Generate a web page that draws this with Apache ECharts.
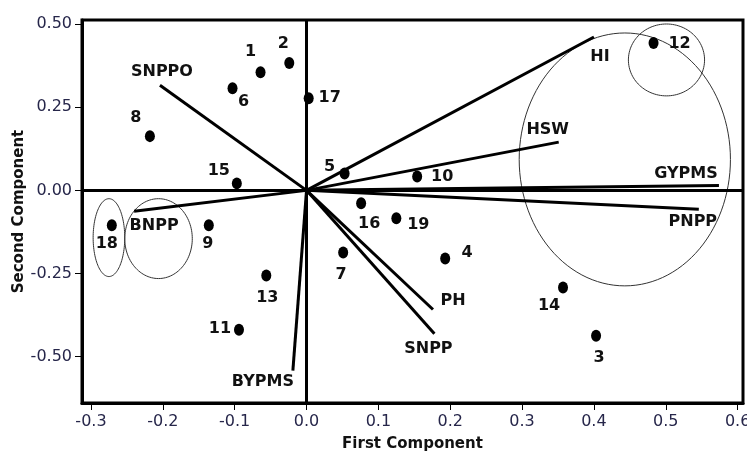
<!DOCTYPE html>
<html>
<head>
<meta charset="utf-8">
<script src="https://cdn.jsdelivr.net/npm/echarts@6/dist/echarts.min.js"></script>
<style>
html,body{margin:0;padding:0;background:#fff;}
#chart{width:747px;height:455px;}
</style>
</head>
<body>
<div id="chart"></div>
<script>
// ---- data ----
const xTicks = [-0.3, -0.2, -0.1, 0.0, 0.1, 0.2, 0.3, 0.4, 0.5, 0.6];
const yTicks = [-0.5, -0.25, 0.0, 0.25, 0.5];

const pointLabels = ['1','2','3','4','5','6','7','8','9','10','11','12','13','14','15','16','17','18','19'];
const pointX = [-0.064, -0.024, 0.403, 0.193, 0.053, -0.103, 0.051, -0.218, -0.136, 0.154, -0.094, 0.483, -0.056, 0.357, -0.097, 0.076, 0.003, -0.271, 0.125];
const pointY = [0.355, 0.383, -0.437, -0.205, 0.051, 0.307, -0.187, 0.163, -0.105, 0.042, -0.419, 0.443, -0.256, -0.292, 0.021, -0.039, 0.277, -0.105, -0.084];

const varNames = ['HI', 'HSW', 'GYPMS', 'PNPP', 'PH', 'SNPP', 'BYPMS', 'SNPPO', 'BNPP'];
const varX = [0.400, 0.351, 0.574, 0.546, 0.176, 0.178, -0.019, -0.204, -0.240];
const varY = [0.461, 0.145, 0.015, -0.057, -0.358, -0.431, -0.542, 0.316, -0.063];

// group ellipses (centre and radii, in data units)
const ellCx = [0.443, 0.501, -0.275, -0.206];
const ellCy = [0.093, 0.392, -0.142, -0.145];
const ellRx = [0.147, 0.053, 0.022, 0.047];
const ellRy = [0.380, 0.108, 0.117, 0.120];

// ---- layout (pixel offsets of labels) ----
const pointLabelOffset = [
  [-10,-20],[-6,-19],[3,22],[22,-6],[-15,-7],[11,14],[-2,22],[-14,-18],[-1,19],[25,0],
  [-19,-1],[26,1],[1,22],[-14,18],[-18,-13],[8,20],[21,0],[-5,19],[22,7]
];
const varLabelOffset = [[6,20],[-11,-12],[-33,-12],[-6,13],[20,-9],[-6,15],[-30,11],[2,-13],[20,15]];

const FONT = '"DejaVu Sans", Verdana, sans-serif';
const chart = echarts.init(document.getElementById('chart'));

const option = {
  animation: false,
  backgroundColor: '#fff',
  grid: { left: 82, right: 4, top: 20, bottom: 52, containLabel: false, outerBoundsMode: 'none',
    show: true, borderColor: '#000', borderWidth: 3 },
  xAxis: {
    type: 'value', min: -0.3125, max: 0.6075,
    name: 'First Component', nameLocation: 'middle', nameGap: 34, nameMoveOverlap: false,
    nameTextStyle: { fontFamily: FONT, fontWeight: 'bold', fontSize: 15, color: '#111' },
    axisLine: { show: true, onZero: false, lineStyle: { color: '#000', width: 3 } },
    axisTick: { show: true, customValues: xTicks, length: 7, lineStyle: { color: '#000', width: 1 } },
    axisLabel: { customValues: xTicks, formatter: v => v.toFixed(1), margin: 11,
      fontFamily: FONT, fontSize: 16, color: '#26264a' },
    splitLine: { show: false }
  },
  yAxis: {
    type: 'value', min: -0.639, max: 0.512,
    name: 'Second Component', nameLocation: 'middle', nameGap: 55, nameMoveOverlap: false,
    nameTextStyle: { fontFamily: FONT, fontWeight: 'bold', fontSize: 15, color: '#111' },
    axisLine: { show: true, onZero: false, lineStyle: { color: '#000', width: 3 } },
    axisTick: { show: true, customValues: yTicks, length: 7, lineStyle: { color: '#000', width: 1 } },
    axisLabel: { customValues: yTicks, formatter: v => v.toFixed(2), margin: 10,
      fontFamily: FONT, fontSize: 16, color: '#26264a' },
    splitLine: { show: false }
  },
  series: [
    {
      type: 'custom', name: 'ellipses', z: 2, silent: true,
      data: ellCx.map((c, i) => [c, ellCy[i], ellRx[i], ellRy[i]]),
      renderItem: function (params, api) {
        const cx = api.value(0), cy = api.value(1), rx = api.value(2), ry = api.value(3);
        const pts = [];
        for (let k = 0; k < 120; k++) {
          const t = k / 120 * Math.PI * 2;
          pts.push(api.coord([cx + rx * Math.cos(t), cy + ry * Math.sin(t)]));
        }
        return { type: 'polygon', shape: { points: pts }, style: { fill: 'none', stroke: '#333', lineWidth: 1 } };
      }
    },
    {
      type: 'custom', name: 'vectors', z: 3, silent: true,
      data: varX.map((x, i) => [x, varY[i], i]),
      renderItem: function (params, api) {
        const p0 = api.coord([0, 0]);
        const p1 = api.coord([api.value(0), api.value(1)]);
        const idx = api.value(2);
        const off = varLabelOffset[idx];
        return {
          type: 'group',
          children: [
            { type: 'line', shape: { x1: p0[0], y1: p0[1], x2: p1[0], y2: p1[1] },
              style: { stroke: '#000', lineWidth: 3 } },
            { type: 'text', x: p1[0] + off[0], y: p1[1] + off[1],
              style: { text: varNames[idx], align: 'center', verticalAlign: 'middle',
                font: 'bold 16px ' + FONT, fill: '#111' } }
          ]
        };
      }
    },
    {
      type: 'scatter', name: 'genotypes', z: 4,
      symbol: 'circle', symbolSize: [10, 12],
      itemStyle: { color: '#000', opacity: 1 },
      label: { show: true, position: 'inside', formatter: '{b}', opacity: 1,
        fontFamily: FONT, fontWeight: 'bold', fontSize: 16, color: '#111' },
      data: pointX.map((x, i) => ({ name: pointLabels[i], value: [x, pointY[i]], label: { offset: pointLabelOffset[i] } })),
      markLine: {
        silent: true, symbol: 'none', label: { show: false },
        lineStyle: { color: '#000', width: 3, type: 'solid', opacity: 1 },
        data: [{ xAxis: 0 }, { yAxis: 0 }]
      }
    }
  ]
};
chart.setOption(option);
</script>
</body>
</html>
